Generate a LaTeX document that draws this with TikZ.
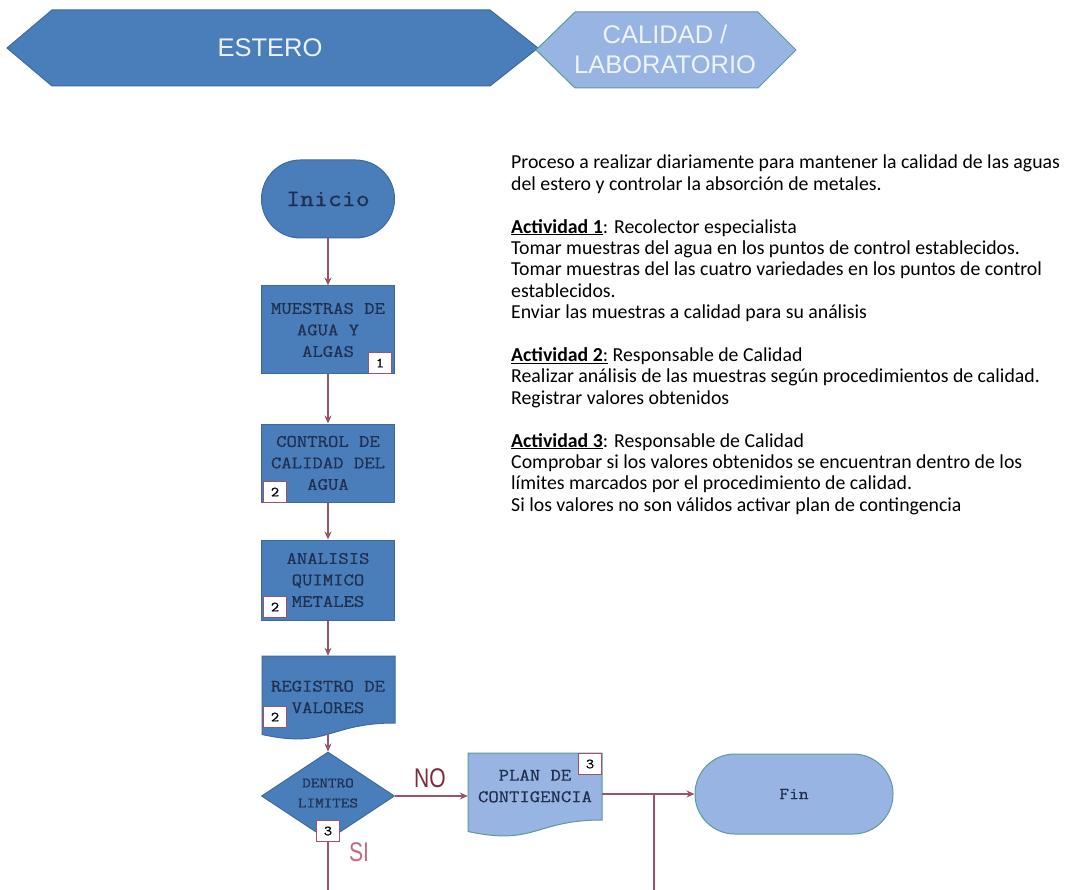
\documentclass[tikz,border=0pt]{standalone}
\usepackage{fontspec}
\setmainfont{Carlito}
\newfontfamily\monof[FakeStretch=1.15,FakeBold=0.8]{Latin Modern Mono}
\newfontfamily\arialf{Liberation Sans}
\usetikzlibrary{arrows.meta,shapes.geometric}
\definecolor{dkfill}{HTML}{4A7EBB}
\definecolor{dkline}{HTML}{3D6A9E}
\definecolor{ltfill}{HTML}{98B4E2}
\definecolor{ltline}{HTML}{5E9A9A}
\definecolor{navy}{HTML}{1F2F4F}
\definecolor{conncol}{HTML}{9A5468}
\definecolor{numline}{HTML}{A05070}
\definecolor{hdtext}{HTML}{EEF3FA}
\definecolor{nocol}{HTML}{7B2C3A}
\definecolor{sicol}{HTML}{C56A85}
\begin{document}
\begin{tikzpicture}[x=1pt,y=-1pt,
  darkbox/.style={draw=dkline, fill=dkfill, line width=1pt},
  lightbox/.style={draw=ltline, fill=ltfill, line width=1pt},
  boxtext/.style={font=\monof\fontsize{17.5}{21.5}\selectfont, text=navy, align=center, inner sep=0pt},
  numbox/.style={draw=numline, fill=white, line width=0.8pt, minimum width=23pt, minimum height=21pt, inner sep=0pt, font=\monof\fontsize{14}{14}\selectfont},
  conn/.style={draw=conncol, line width=1.3pt},
  arr/.style={conn, -{Stealth[length=8pt,width=7pt]}},
  bodytext/.style={anchor=north west, align=left, inner sep=0pt, font=\fontsize{19.8}{21.4}\selectfont},
  hdfont/.style={font=\arialf\fontsize{25.5}{30}\selectfont, text=hdtext, align=center}
]
\useasboundingbox (0,0) rectangle (1068,890);
\fill[white] (0,0) rectangle (1068,890);

% header
\draw[darkbox] (7,48) -- (52,10) -- (490,10) -- (538,48) -- (490,86) -- (52,86) -- cycle;
\node[hdfont] (estero) at (270,48) {ESTERO};
\draw[fill=ltfill, draw=ltline, line width=1pt] (536,50) -- (575,12) -- (758,12) -- (796,50) -- (758,88) -- (575,88) -- cycle;
\node[hdfont] (calidad) at (665,49) {CALIDAD /\\LABORATORIO};

% flow
\node[darkbox, rounded corners=38.9pt, minimum width=133pt, minimum height=78pt, font=\monof\fontsize{23.5}{24}\selectfont, text=navy] (ini) at (328,199) {Inicio};
\node[darkbox, boxtext, minimum width=133pt, minimum height=88pt] (mue) at (328,330) {MUESTRAS DE\\AGUA Y\\ALGAS};
\node[numbox] (n1) at (380,363) {1};
\node[darkbox, boxtext, minimum width=133pt, minimum height=78pt] (ctl) at (328,463) {CONTROL DE\\CALIDAD DEL\\AGUA};
\node[numbox] (n2) at (275,492) {2};
\node[darkbox, boxtext, minimum width=133pt, minimum height=80pt] (ana) at (328,580) {ANALISIS\\QUIMICO\\METALES};
\node[numbox] (n3) at (275,607) {2};

\draw[darkbox] (262,656) -- (395,656) -- (395,723) .. controls (328,723) and (328,749) .. (262,734.5) -- cycle;
\node[minimum width=133pt, minimum height=67pt, inner sep=0pt] (regbox) at (328,689.5) {};
\node[boxtext] (reg) at (328,697) {REGISTRO DE\\VALORES};
\coordinate (regbot) at (328,734);
\node[numbox] (n4) at (275,717) {2};

\node[darkbox, diamond, minimum width=133pt, minimum height=88pt, inner sep=0pt] (dec) at (328,796) {};
\node[boxtext, font=\monof\fontsize{14.5}{20}\selectfont] (dectext) at (328,793) {DENTRO\\LIMITES};
\node[numbox] (n5) at (328,831) {3};

\draw[lightbox] (468,753) -- (602,753) -- (602,820) .. controls (535,820) and (535,846) .. (468,831.5) -- cycle;
\node[minimum width=134pt, minimum height=67pt, inner sep=0pt] (planbox) at (535,786.5) {};
\node[boxtext] (plan) at (535,786) {PLAN DE\\CONTIGENCIA};
\node[numbox] (n6) at (590,764) {3};

\node[lightbox, rounded corners=39.9pt, minimum width=198pt, minimum height=80pt, font=\monof\fontsize{16.5}{17}\selectfont, text=navy] (fin) at (794,794) {Fin};

% connectors
\draw[arr] (ini.south) -- (mue.north);
\draw[arr] (mue.south) -- (ctl.north);
\draw[arr] (ctl.south) -- (ana.north);
\draw[arr] (ana.south) -- (regbox.north);
\draw[arr] (regbot) -- (dec.north);
\draw[arr] (dec.east) -- (dec.east -| planbox.west);
\draw[arr] (planbox.east |- fin.west) -- (fin.west);
\coordinate (junc) at (654,794);
\coordinate (jend) at (654,890);
\draw[conn] (junc) -- (jend);
\coordinate (siend) at (328,890);
\draw[conn] (dec.south) -- (siend);

\node[font=\arialf\fontsize{27}{27}\selectfont, text=nocol, xscale=0.78] (no) at (430,778) {NO};
\node[font=\arialf\fontsize{27}{27}\selectfont, text=sicol, xscale=0.78] (si) at (359,852) {SI};

% description
\node[bodytext] (desc) at (511,155) {Proceso a realizar diariamente para mantener la calidad de las aguas\\
del estero y controlar la absorción de metales.\\[21.4pt]
\underline{\textbf{Actividad 1}}: Recolector especialista\\
Tomar muestras del agua en los puntos de control establecidos.\\
Tomar muestras del las cuatro variedades en los puntos de control\\
establecidos.\\
Enviar las muestras a calidad para su análisis\\[21.4pt]
\underline{\textbf{Actividad 2}:} Responsable de Calidad\\
Realizar análisis de las muestras según procedimientos de calidad.\\
Registrar valores obtenidos\\[21.4pt]
\underline{\textbf{Actividad 3}}: Responsable de Calidad\\
Comprobar si los valores obtenidos se encuentran dentro de los\\
límites marcados por el procedimiento de calidad.\\
Si los valores no son válidos activar plan de contingencia};
\end{tikzpicture}
\end{document}
